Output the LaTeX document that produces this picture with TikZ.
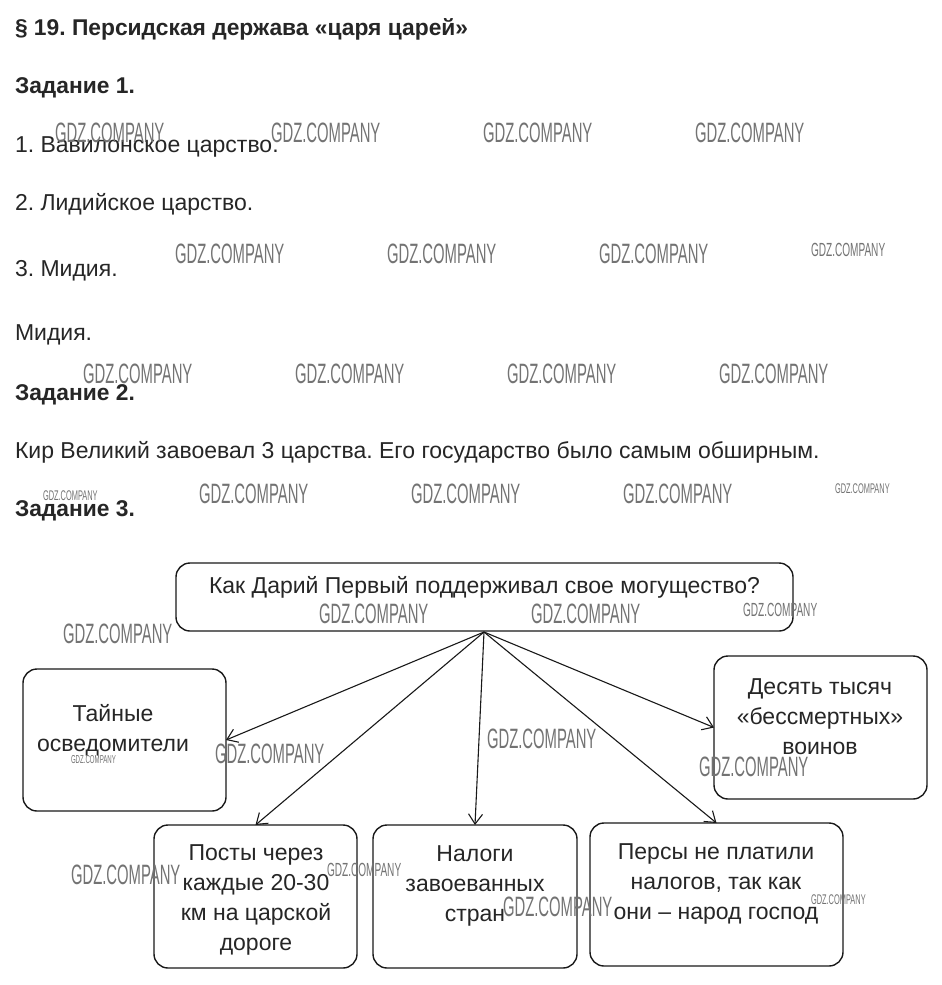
\documentclass[tikz,border=0pt]{standalone}
\usepackage{fontspec}
\setmainfont{Liberation Sans}
\usetikzlibrary{arrows.meta}
\newcommand{\gdzmark}{\scalebox{.53}[1]{GDZ.COMPANY}}
\frenchspacing
\begin{document}
\begin{tikzpicture}[x=1pt,y=-1pt,
 every node/.style={inner sep=0pt, outer sep=0pt},
 body/.style={anchor=base west, font=\fontsize{23}{27}\selectfont, text=black!85},
 head/.style={anchor=base west, font=\fontsize{22.8}{27}\selectfont\bfseries, text=black!85},
 box/.style={draw=black!90, line width=1.4pt, rounded corners=14pt},
 btxt/.style={align=center, font=\fontsize{23}{30}\selectfont, text=black!85},
 arr/.style={draw=black!90, line width=1.1pt, -{Straight Barb[length=10pt,width=14pt]}},
 wm/.style={anchor=west, text=black!55, font=\fontsize{28}{28}\selectfont},
 wms/.style={anchor=west, text=black!55, font=\fontsize{19}{19}\selectfont},
 wmt/.style={anchor=west, text=black!55, font=\fontsize{14}{14}\selectfont},
 wmu/.style={anchor=west, text=black!55, font=\fontsize{11.5}{11.5}\selectfont},
]
\fill[white] (0,0) rectangle (942,985);
\useasboundingbox (0,0) rectangle (942,985);

% text
\node[head] (t0) at (15,35) {§ 19. Персидская держава «царя царей»};
\node[head] (t1) at (15,93) {Задание 1.};
\node[body] (a1) at (15,152) {1. Вавилонское царство.};
\node[body] (a2) at (15,210) {2. Лидийское царство.};
\node[body] (a3) at (15,276) {3. Мидия.};
\node[body] (a4) at (15,340) {Мидия.};
\node[head] (t2) at (15,400) {Задание 2.};
\node[body] (b1) at (15,458) {Кир Великий завоевал 3 царства. Его государство было самым обширным.};
\node[head] (t3) at (15,516) {Задание 3.};

% boxes
\node[box, minimum width=617pt, minimum height=68pt] (top) at (484.5,597) {};
\node[box, minimum width=203pt, minimum height=142pt] (tl) at (124.5,740) {};
\node[box, minimum width=213pt, minimum height=143pt] (dt) at (820.5,727.5) {};
\node[box, minimum width=203pt, minimum height=143pt] (po) at (255.5,896.5) {};
\node[box, minimum width=204pt, minimum height=143pt] (na) at (475,896.5) {};
\node[box, minimum width=253pt, minimum height=143pt] (pe) at (716.5,894.5) {};

\node[btxt] (topt) at (484.5,587) {Как Дарий Первый поддерживал свое могущество?};
\node[btxt] (tlt) at (113,730) {Тайные\\осведомители};
\node[btxt] (dtt) at (820,717) {Десять тысяч\\«бессмертных»\\воинов};
\node[btxt] (pot) at (256,900) {Посты через\\каждые 20-30\\км на царской\\дороге};
\node[btxt] (nat) at (475,886) {Налоги\\завоеванных\\стран};
\node[btxt] (pet) at (716,884) {Персы не платили\\налогов, так как\\они – народ господ};

% arrows
\coordinate (src) at (484,632);
\draw[arr] (src) -- (tl.east);
\draw[arr] (src) -- (po.north);
\draw[arr] (src) -- (na.north);
\draw[arr] (src) -- (pe.north);
\draw[arr] (src) -- (dt.west);

% watermarks
\node[wm] (w1) at (55,133) {\gdzmark};
\node[wm] (w2) at (271,133) {\gdzmark};
\node[wm] (w3) at (483,133) {\gdzmark};
\node[wm] (w4) at (695,133) {\gdzmark};
\node[wm] (w5) at (175,254) {\gdzmark};
\node[wm] (w6) at (387,254) {\gdzmark};
\node[wm] (w7) at (599,254) {\gdzmark};
\node[wms] (w8) at (811,250) {\gdzmark};
\node[wm] (w9) at (83,374) {\gdzmark};
\node[wm] (w10) at (295,374) {\gdzmark};
\node[wm] (w11) at (507,374) {\gdzmark};
\node[wm] (w12) at (719,374) {\gdzmark};
\node[wmt] (w13) at (43,496) {\gdzmark};
\node[wm] (w14) at (199,494) {\gdzmark};
\node[wm] (w15) at (411,494) {\gdzmark};
\node[wm] (w16) at (623,494) {\gdzmark};
\node[wmt] (w17) at (835,489) {\gdzmark};
\node[wm] (w18) at (319,614) {\gdzmark};
\node[wm] (w19) at (531,614) {\gdzmark};
\node[wms] (w20) at (743,610) {\gdzmark};
\node[wm] (w21) at (63,634) {\gdzmark};
\node[wm] (w22) at (215,754) {\gdzmark};
\node[wmu] (w23) at (71,760) {\gdzmark};
\node[wm] (w24) at (487,739) {\gdzmark};
\node[wm] (w25) at (699,767) {\gdzmark};
\node[wm] (w26) at (71,875) {\gdzmark};
\node[wms] (w27) at (327,870) {\gdzmark};
\node[wm] (w28) at (503,907) {\gdzmark};
\node[wmt] (w29) at (811,900) {\gdzmark};
\end{tikzpicture}
\end{document}
